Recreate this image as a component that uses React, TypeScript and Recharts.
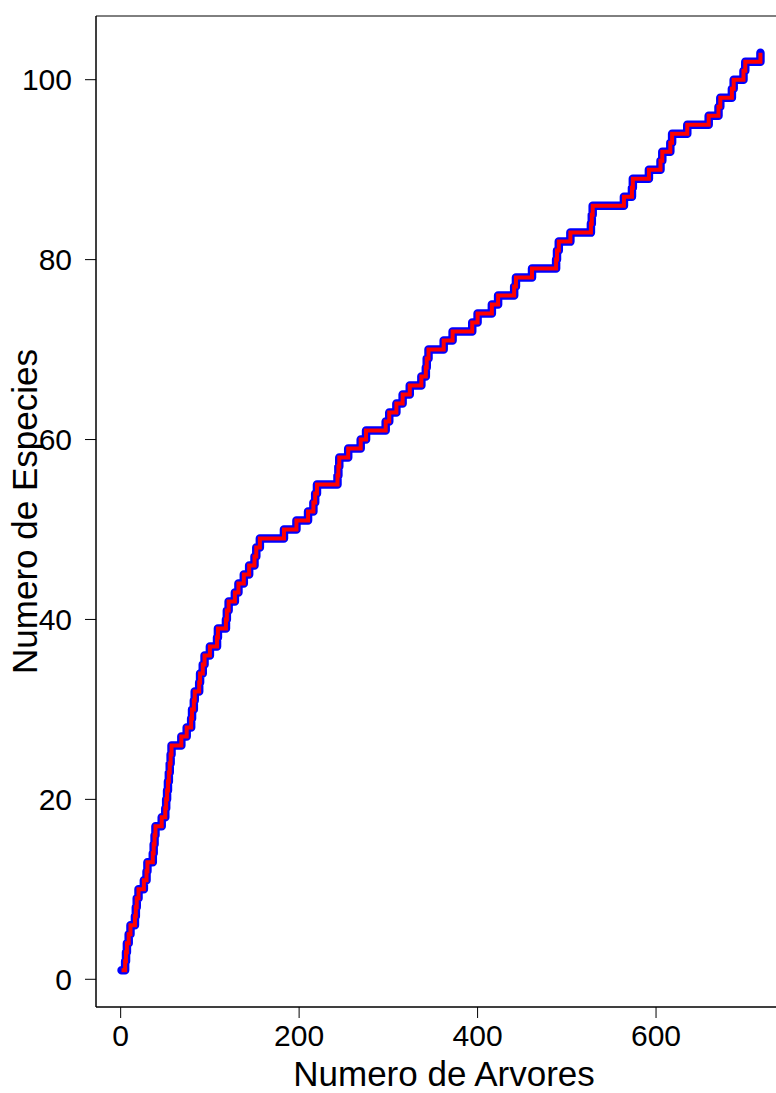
import { LineChart, Line, XAxis, YAxis, ReferenceArea, Label } from "recharts";

// tree number at which each new species first appears
const firstTree = [
  1, 5, 6, 7, 9, 11, 16, 17, 18, 20, 26, 29, 30, 36, 37, 38, 39, 46, 50, 51,
  52, 53, 54, 55, 56, 57, 68, 74, 79, 80, 82, 83, 88, 89, 92, 94, 100, 108, 109, 118,
  119, 121, 128, 132, 138, 144, 150, 152, 156, 183, 197, 210, 216, 218, 220, 243, 244, 245, 255, 269,
  275, 297, 301, 309, 316, 324, 337, 342, 343, 345, 362, 372, 394, 400, 416, 423, 441, 443, 461, 488,
  489, 491, 504, 527, 528, 529, 564, 573, 574, 592, 605, 607, 616, 618, 635, 659, 670, 672, 685, 687,
  698, 700, 717,
];

// cumulative number of species
const speciesCount = [
  1, 2, 3, 4, 5, 6, 7, 8, 9, 10, 11, 12, 13, 14, 15, 16, 17, 18, 19, 20,
  21, 22, 23, 24, 25, 26, 27, 28, 29, 30, 31, 32, 33, 34, 35, 36, 37, 38, 39, 40,
  41, 42, 43, 44, 45, 46, 47, 48, 49, 50, 51, 52, 53, 54, 55, 56, 57, 58, 59, 60,
  61, 62, 63, 64, 65, 66, 67, 68, 69, 70, 71, 72, 73, 74, 75, 76, 77, 78, 79, 80,
  81, 82, 83, 84, 85, 86, 87, 88, 89, 90, 91, 92, 93, 94, 95, 96, 97, 98, 99, 100,
  101, 102, 103,
];

const xTicks = [0, 200, 400, 600];
const yTicks = [0, 20, 40, 60, 80, 100];

const data = firstTree.map((tree, i) => ({ tree, species: speciesCount[i] }));

// R style 4% axis extension
const xSpan = firstTree[firstTree.length - 1] - firstTree[0];
const xMin = firstTree[0] - 0.04 * xSpan;
const xMax = firstTree[firstTree.length - 1] + 0.04 * xSpan;
const ySpan = speciesCount[speciesCount.length - 1] - speciesCount[0];
const yMin = speciesCount[0] - 0.04 * ySpan;
const yMax = speciesCount[speciesCount.length - 1] + 0.04 * ySpan;

const font = "'Liberation Sans', Arial, Helvetica, sans-serif";

const App = () => {
  return (
    <div
      style={{
        position: "absolute",
        left: 0,
        top: 0,
        width: 776,
        height: 1093,
        overflow: "hidden",
        background: "#fff",
        fontFamily: font,
      }}
    >
      <LineChart
        width={800}
        height={1093}
        data={data}
        margin={{ top: 16, right: 14, left: 0, bottom: 0 }}
      >
        <XAxis
          type="number"
          dataKey="tree"
          domain={[xMin, xMax]}
          ticks={xTicks}
          interval={0}
          height={86}
          tickSize={11}
          tickMargin={7}
          axisLine={{ stroke: "#000" }}
          tickLine={{ stroke: "#000" }}
          tick={{ fill: "#000", fontSize: 30, fontFamily: font }}
        >
          <Label
            content={({ viewBox }: any) => (
              <text
                x={viewBox.x + viewBox.width / 2 + 3}
                y={viewBox.y + viewBox.height - 7}
                textAnchor="middle"
                fontSize={35}
                fontFamily={font}
                fill="#000"
              >
                Numero de Arvores
              </text>
            )}
          />
        </XAxis>
        <YAxis
          type="number"
          domain={[yMin, yMax]}
          ticks={yTicks}
          interval={0}
          width={96}
          tickSize={11}
          tickMargin={13}
          axisLine={{ stroke: "#000" }}
          tickLine={{ stroke: "#000" }}
          tick={{ fill: "#000", fontSize: 30, fontFamily: font }}
        >
          <Label
            content={({ viewBox }: any) => {
              const cx = viewBox.x + 37;
              const cy = viewBox.y + viewBox.height / 2;
              return (
                <text
                  x={cx}
                  y={cy}
                  transform={`rotate(-90 ${cx} ${cy})`}
                  textAnchor="middle"
                  fontSize={35}
                  fontFamily={font}
                  fill="#000"
                >
                  Numero de Especies
                </text>
              );
            }}
          />
        </YAxis>
        <ReferenceArea
          x1={xMin}
          x2={xMax}
          y1={yMin}
          y2={yMax}
          fill="none"
          stroke="#000"
          strokeWidth={1}
        />
        <Line
          type="stepAfter"
          dataKey="species"
          stroke="#0000FF"
          strokeWidth={8.5}
          strokeLinecap="round"
          strokeLinejoin="round"
          dot={false}
          activeDot={false}
          isAnimationActive={false}
        />
        <Line
          type="stepAfter"
          dataKey="species"
          stroke="#FF0000"
          strokeWidth={4}
          dot={false}
          activeDot={false}
          isAnimationActive={false}
        />
      </LineChart>
    </div>
  );
};

export default App;
